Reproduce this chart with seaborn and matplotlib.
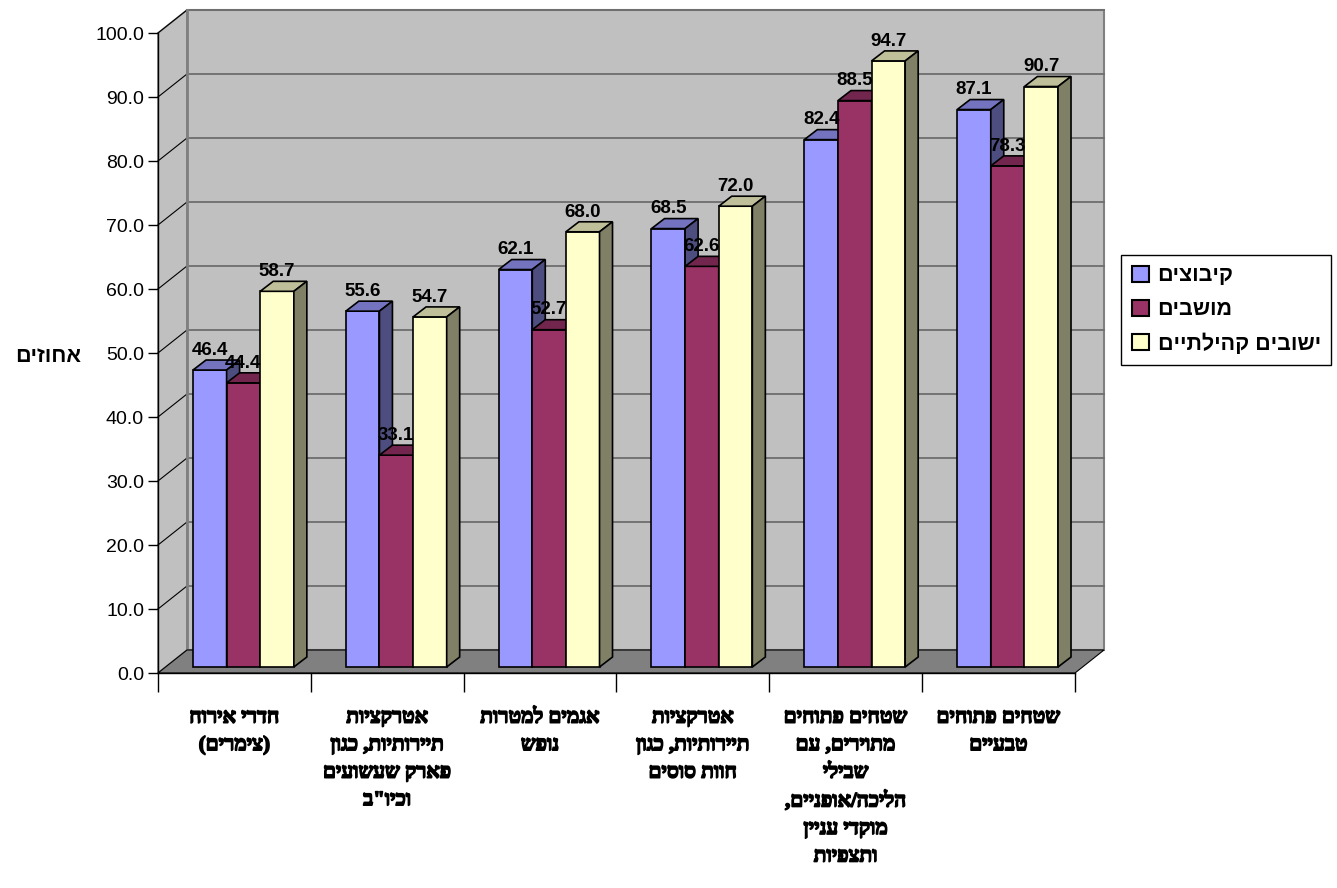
import numpy as np
import pandas as pd
import matplotlib
matplotlib.use("Agg")
import matplotlib.pyplot as plt
import matplotlib.patheffects as pe
import seaborn as sns
from matplotlib.patches import Polygon
from matplotlib.colors import to_rgb

# data
categories = [
    'חדרי אירוח\n(צימרים)',
    'אטרקציות\nתיירותיות, כגון\nפארק שעשועים\nוכיו"ב',
    'אגמים למטרות\nנופש',
    'אטרקציות\nתיירותיות, כגון\nחוות סוסים',
    'שטחים פתוחים\nמתוירים, עם\nשבילי\nהליכה/אופניים,\nמוקדי עניין\nותצפיות',
    'שטחים פתוחים\nטבעיים',
]
series = ['קיבוצים', 'מושבים', 'ישובים קהילתיים']
kibbutzim = [46.4, 55.6, 62.1, 68.5, 82.4, 87.1]
moshavim = [44.4, 33.1, 52.7, 62.6, 88.5, 78.3]
communities = [58.7, 54.7, 68.0, 72.0, 94.7, 90.7]
colors = ['#9999FF', '#993366', '#FFFFCC']
y_ticks = np.arange(0, 101, 10)
y_label = 'אחוזים'

SANS = ['Liberation Sans', 'DejaVu Sans']
SERIF = ['Liberation Serif', 'DejaVu Sans']
plt.rcParams['font.family'] = SANS


def heb(s):
    # matplotlib has no bidi, so flip each line by hand
    mirror = {'(': ')', ')': '('}
    return '\n'.join(''.join(mirror.get(c, c) for c in line[::-1])
                     for line in s.split('\n'))


rows = []
for name, vals in zip(series, [kibbutzim, moshavim, communities]):
    for c, v in zip(categories, vals):
        rows.append({'cat': heb(c), 'series': heb(name), 'value': v})
df = pd.DataFrame(rows)

W, H = 1337, 888
fig = plt.figure(figsize=(W / 100, H / 100), dpi=100)
ax = fig.add_axes([158 / W, 215 / H, 917 / W, 640 / H])
ax.set_facecolor('none')

sns.barplot(data=df, x='cat', y='value', hue='series', palette=colors,
            saturation=1, width=0.66, edgecolor='black', linewidth=1.2,
            ax=ax, errorbar=None)
ax.set_xlim(-0.5, 5.5)
ax.set_ylim(0, 100)

# pixel -> data conversion for the fake 3d depth
px_x = 917 / 6
px_y = 640 / 100
wdx, wdy = 29 / px_x, 23 / px_y
box, boy = 9 / px_x, 6 / px_y
ddx, ddy = 13 / px_x, 10 / px_y

# walls and floor
back = Polygon([(-0.5 + wdx, wdy), (5.5 + wdx, wdy), (5.5 + wdx, 100 + wdy), (-0.5 + wdx, 100 + wdy)],
               fc='#C0C0C0', ec='#808080', lw=1.5, clip_on=False, zorder=0)
side = Polygon([(-0.5, 0), (-0.5 + wdx, wdy), (-0.5 + wdx, 100 + wdy), (-0.5, 100)],
               fc='#C0C0C0', ec='#808080', lw=1.2, clip_on=False, zorder=0)
ax.add_patch(back)
ax.add_patch(side)
for v in y_ticks[1:]:
    ax.plot([-0.5 + wdx, 5.5 + wdx], [v + wdy, v + wdy], color='#6E6E6E', lw=1.3,
            clip_on=False, zorder=0.5)
    ax.plot([-0.5, -0.5 + wdx], [v, v + wdy], color='black', lw=0.8, clip_on=False, zorder=0.5)
ax.plot([-0.5 + wdx, -0.5 + wdx], [wdy, 100 + wdy], color='#808080', lw=2, clip_on=False, zorder=0.5)
floor = Polygon([(-0.5, 0), (5.5, 0), (5.5 + wdx, wdy), (-0.5 + wdx, wdy)],
                fc='#808080', ec='black', lw=0.8, clip_on=False, zorder=0.7)
ax.add_patch(floor)

# bars: shift front faces back a bit, add top and side faces
for j, cont in enumerate(ax.containers):
    for bar in cont:
        x0 = bar.get_x() + box
        w = bar.get_width()
        h = bar.get_height()
        bar.set_x(x0)
        bar.set_y(boy)
        bar.set_zorder(3 + j)
        top = h + boy
        base = np.array(to_rgb(bar.get_facecolor()))
        ax.add_patch(Polygon([(x0, top), (x0 + w, top), (x0 + w + ddx, top + ddy), (x0 + ddx, top + ddy)],
                             fc=base * 0.75, ec='black', lw=1.2, zorder=3 + j))
        ax.add_patch(Polygon([(x0 + w, boy), (x0 + w + ddx, boy + ddy), (x0 + w + ddx, top + ddy), (x0 + w, top)],
                             fc=base * 0.5, ec='black', lw=1.2, zorder=3 + j))
        ax.text(x0 + w / 2, top + ddy + 0.2, f'{h:.1f}', ha='center', va='bottom',
                fontsize=13.5, fontweight='bold', color='black', zorder=10)

# axes, ticks
for s in ['top', 'right']:
    ax.spines[s].set_visible(False)
for s in ['left', 'bottom']:
    ax.spines[s].set_color('black')
    ax.spines[s].set_linewidth(1)
    ax.spines[s].set_zorder(8)

ax.set_xticks(np.arange(-0.5, 6, 1), labels=[''] * 7)
ax.set_xticks(range(6), labels=[heb(c) for c in categories], minor=True,
              fontfamily=SERIF, fontweight='bold', fontsize=15, linespacing=1.5)
ax.tick_params(axis='x', which='major', length=14, width=1, color='black')
ax.tick_params(axis='x', which='minor', length=0, pad=25)
# the serif hebrew has no bold face, thicken strokes instead
for lab in ax.get_xticklabels(minor=True):
    lab.set_path_effects([pe.withStroke(linewidth=1.1, foreground='black')])

ax.set_yticks(y_ticks, labels=[f'{v:.1f}' for v in y_ticks])
ax.tick_params(axis='y', length=7, width=1, labelsize=14, pad=3, color='black')

ax.set_xlabel('')
ax.set_ylabel(heb(y_label), rotation=0, fontsize=15.5, fontweight='bold', ha='center', va='center')
ax.yaxis.set_label_coords(-0.12, 0.494)

handles, labels = ax.get_legend_handles_labels()
leg = ax.legend(handles, labels, loc='center left', bbox_to_anchor=(1121 / W, 1 - 310 / H),
                bbox_transform=fig.transFigure, frameon=True, fancybox=False,
                edgecolor='black', framealpha=1,
                prop={'weight': 'bold', 'size': 15.5},
                handlelength=0.8, handleheight=0.8, handletextpad=0.4,
                labelspacing=0.6, borderpad=0.5, borderaxespad=0)
leg.get_frame().set_linewidth(1)
for hnd in leg.legend_handles:
    hnd.set_edgecolor('black')
    hnd.set_linewidth(1.5)

fig.savefig('out.png', dpi=100)
